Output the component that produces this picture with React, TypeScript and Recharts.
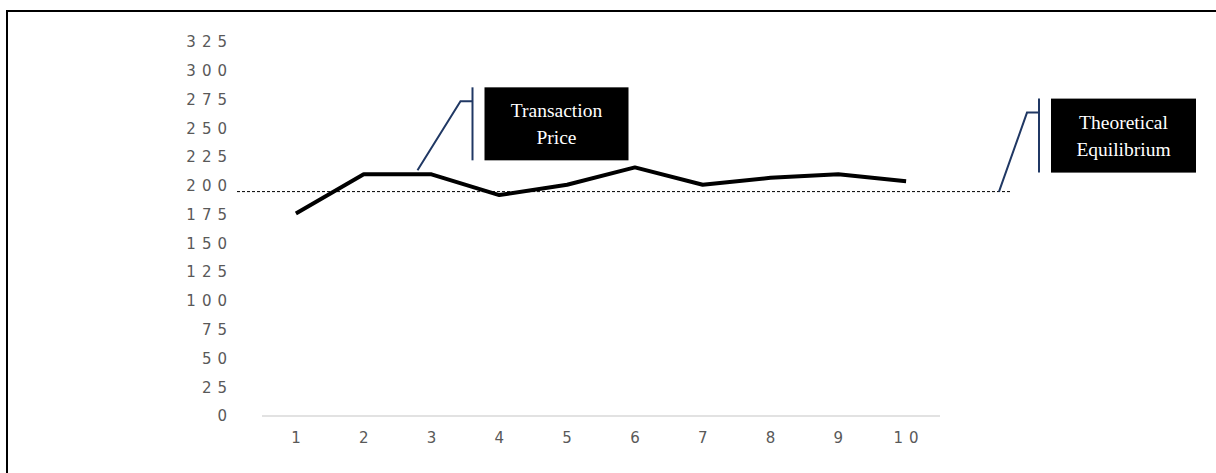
import { ComposedChart, Line, XAxis, YAxis, ReferenceLine, ReferenceDot } from 'recharts'

const rounds = ['1', '2', '3', '4', '5', '6', '7', '8', '9', '10']
const prices = [176, 210, 210, 192, 201, 216, 201, 207, 210, 204]
const yTicks = [0, 25, 50, 75, 100, 125, 150, 175, 200, 225, 250, 275, 300, 325]
const equilibrium = 195
const priceCalloutRound = '3'
const priceCalloutLines = ['Transaction', 'Price']
const equilibriumCalloutLines = ['Theoretical', 'Equilibrium']

const data = rounds.map((r, i) => ({ round: r, price: prices[i] }))

const LEADER = '#203864'
const AXIS_TEXT = '#595959'

// box + bracket + leader line, anchored at (ax, ay) where the leader touches the series
function Callout({ ax, ay, elbow, barX, top, bottom, boxW, lines }: {
  ax: number
  ay: number
  elbow: [number, number]
  barX: number
  top: number
  bottom: number
  boxW: number
  lines: string[]
}) {
  const boxX = ax + barX + 12
  const cx = boxX + boxW / 2
  const cy = ay + (top + bottom) / 2
  return (
    <g>
      <polyline
        points={`${ax},${ay} ${ax + elbow[0]},${ay + elbow[1]} ${ax + barX},${ay + elbow[1]}`}
        fill="none"
        stroke={LEADER}
        strokeWidth={2}
      />
      <line x1={ax + barX} y1={ay + top} x2={ax + barX} y2={ay + bottom} stroke={LEADER} strokeWidth={2} />
      <rect x={boxX} y={ay + top} width={boxW} height={bottom - top} fill="#000" />
      {lines.map((t, i) => (
        <text
          key={t}
          x={cx}
          y={cy + (i - (lines.length - 1) / 2) * 27}
          textAnchor="middle"
          dominantBaseline="central"
          fill="#fff"
          fontFamily="'Liberation Serif', 'Times New Roman', serif"
          fontSize={19.5}
        >
          {t}
        </text>
      ))}
    </g>
  )
}

function EquilibriumLine(props: any) {
  const { x1, x2, y1 } = props
  const left = Math.min(x1, x2)
  const right = Math.max(x1, x2)
  return (
    <g>
      <line x1={left - 25} y1={y1} x2={right + 72} y2={y1} stroke="#000" strokeWidth={1} strokeDasharray="3 2" />
      <Callout
        ax={right + 59}
        ay={y1}
        elbow={[28, -79]}
        barX={40}
        top={-93}
        bottom={-19}
        boxW={145}
        lines={equilibriumCalloutLines}
      />
    </g>
  )
}

function PriceCallout(props: any) {
  const { cx, cy } = props
  return (
    <Callout
      ax={cx - 14}
      ay={cy - 4}
      elbow={[43, -69]}
      barX={55}
      top={-83}
      bottom={-10}
      boxW={144}
      lines={priceCalloutLines}
    />
  )
}

const tickStyle = {
  fontSize: 15,
  fill: AXIS_TEXT,
  fontFamily: "'DejaVu Sans', sans-serif",
  letterSpacing: 6,
}

export default function App() {
  return (
    <div style={{ position: 'absolute', left: 0, top: 0, width: 1216, height: 473, overflow: 'hidden', background: '#fff' }}>
      <div
        style={{
          position: 'absolute',
          left: 6,
          top: 10,
          width: 1300,
          height: 600,
          borderLeft: '2px solid #000',
          borderTop: '2px solid #000',
        }}
      />
      <div style={{ position: 'absolute', left: 0, top: 0 }}>
        <ComposedChart width={1216} height={473} data={data} margin={{ top: 42, right: 276, bottom: 0, left: 0 }}>
          <XAxis
            dataKey="round"
            scale="band"
            height={57}
            tick={{ ...tickStyle, dx: 3 }}
            tickLine={false}
            tickMargin={10}
            axisLine={{ stroke: '#d9d9d9', strokeWidth: 1.5 }}
          />
          <YAxis
            width={262}
            domain={[0, 325]}
            ticks={yTicks}
            interval={0}
            tick={tickStyle}
            tickLine={false}
            axisLine={false}
            tickMargin={23}
          />
          <Line
            dataKey="price"
            stroke="#000"
            strokeWidth={4}
            dot={false}
            activeDot={false}
            strokeLinejoin="round"
            isAnimationActive={false}
          />
          <ReferenceLine y={equilibrium} shape={EquilibriumLine} />
          <ReferenceDot x={priceCalloutRound} y={prices[rounds.indexOf(priceCalloutRound)]} shape={PriceCallout} />
        </ComposedChart>
      </div>
    </div>
  )
}
